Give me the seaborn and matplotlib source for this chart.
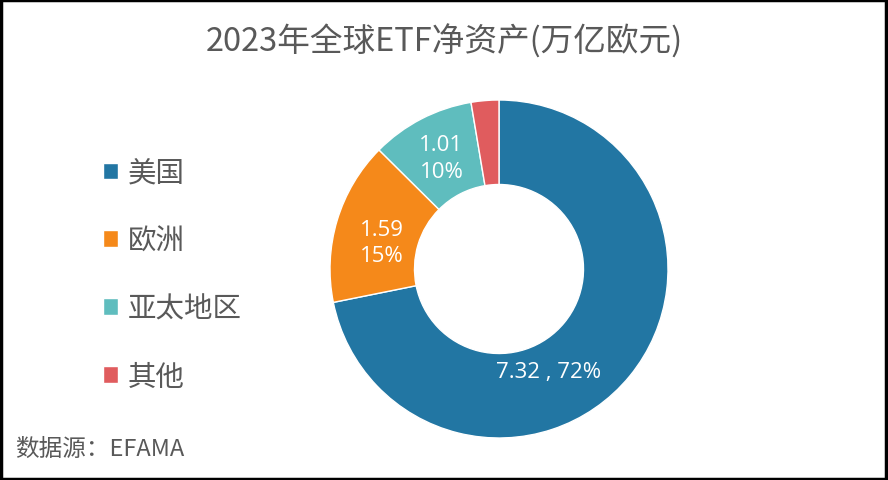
import matplotlib
matplotlib.use("Agg")
import matplotlib.pyplot as plt
import seaborn as sns
import numpy as np
from matplotlib.patches import Rectangle

categories = ["美国", "欧洲", "亚太地区", "其他"]
values = [7.32, 1.59, 1.01, 0.27]
percents = [72, 15, 10, 3]
show_label = [True, True, True, False]
label_formats = ["{v:.2f} , {p}%", "{v:.2f}\n{p}%", "{v:.2f}\n{p}%", ""]
title = "2023年全球ETF净资产(万亿欧元)"
source = "数据源：EFAMA"

sns.set_theme(style="white")
plt.rcParams['font.family'] = ['Noto Sans CJK SC', 'DejaVu Sans']
colors = ["#2276A3", "#F5891A", "#5FBDBE", "#E05C5E"]
sns.set_palette(colors)

fig = plt.figure(figsize=(8.88, 4.81), dpi=100)
ax = fig.add_axes([330/888, 42/481, 338/888, 338/481])
wedges, _ = ax.pie(values, colors=colors, startangle=90, counterclock=False,
                   radius=1.0, wedgeprops=dict(width=0.5, edgecolor="white", linewidth=1))
ax.set_xlim(-1, 1)
ax.set_ylim(-1, 1)
ax.set_aspect("equal")
ax.axis("off")

# label placement: angle offset (deg) and radius per slice
angle_adj = [-25, 4, 0, 0]
rad = [0.67, 0.71, 0.74, 0.7]
for i, w in enumerate(wedges):
    if not show_label[i]:
        continue
    mid = np.deg2rad((w.theta1 + w.theta2) / 2 + angle_adj[i])
    x, y = rad[i] * np.cos(mid), rad[i] * np.sin(mid)
    ax.text(x, y, label_formats[i].format(v=values[i], p=percents[i]),
            ha="center", va="center", color="white", fontsize=16,
            family=["Open Sans", "DejaVu Sans"], linespacing=1.35)

fig.text(0.5, 1 - 42/481, title, ha="center", va="center", fontsize=23.5, color="#595959")
fig.text(15/888, 1 - 449/481, source, ha="left", va="center", fontsize=17, color="#595959")

leg = fig.legend(wedges, categories, loc="upper left", bbox_to_anchor=(103/888, 1 - 159/481),
                 frameon=False, fontsize=20.5, labelcolor="#595959", borderpad=0, borderaxespad=0,
                 handlelength=0.53, handleheight=0.53, handletextpad=0.35, labelspacing=1.33)

fig.patches.append(Rectangle((0.001, 0.002), 0.997, 0.995, transform=fig.transFigure,
                             fill=False, edgecolor="black", linewidth=2.5))
fig.savefig("out.png", dpi=100)
